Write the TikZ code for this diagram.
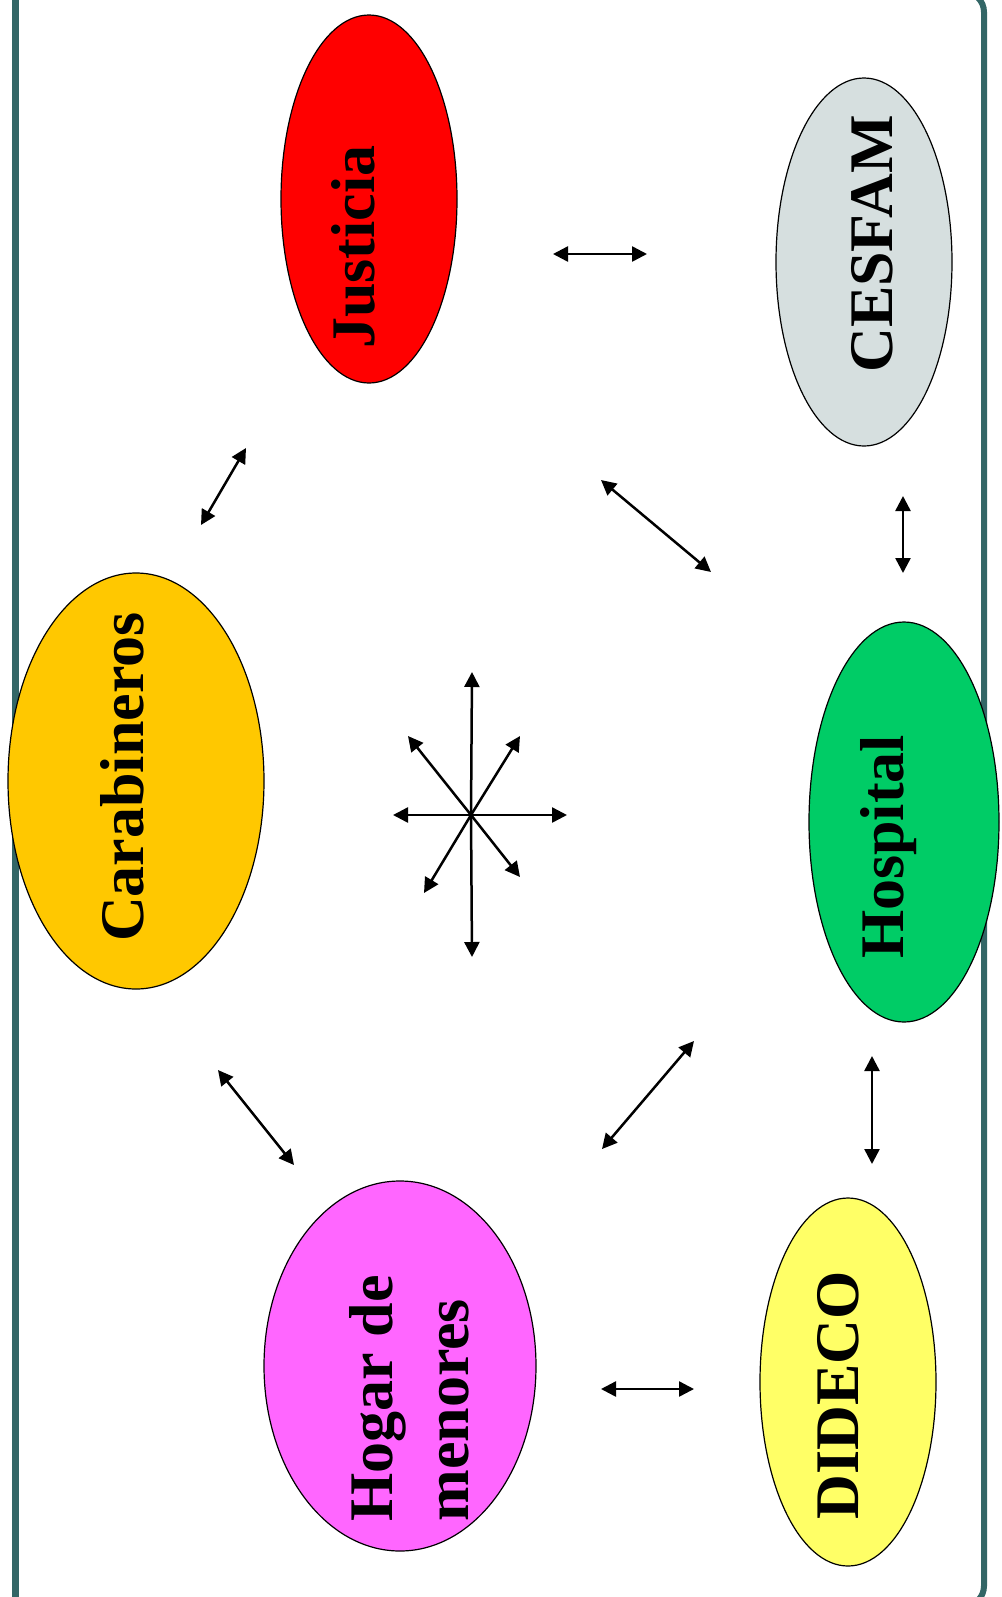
\documentclass[tikz,border=0pt]{standalone}
\usepackage{fontspec}
\setmainfont{Liberation Serif}
\usetikzlibrary{shapes.geometric,arrows.meta}
\definecolor{marco}{HTML}{336666}
\definecolor{gris}{HTML}{D6DFDF}
\definecolor{oro}{HTML}{FFC800}
\definecolor{verde}{HTML}{00CC66}
\definecolor{rosa}{HTML}{FF66FF}
\definecolor{amarillo}{HTML}{FFFF66}

\begin{document}
\begin{tikzpicture}[x=0.5pt,y=-0.5pt,
        elipse/.style={draw=black,line width=0.6pt,ellipse,inner sep=0pt},
        rotulo/.style={rotate=90,inner sep=0pt,font=\fontsize{31}{37}\selectfont\bfseries},
        flecha/.style={line width=1.25pt,{Triangle[length=7.5pt,width=7.5pt]}-{Triangle[length=7.5pt,width=7.5pt]}},
        rayo/.style={line width=1.25pt,-{Triangle[length=7.5pt,width=7.5pt]}}]
        \clip (0,0) rectangle (1002,1597);
        \fill[white] (0,0) rectangle (1002,1597);

        % 画出边框
        \draw[marco,line width=3.5pt] (15,-40) -- (15,1640);
        \draw[marco,line width=3pt,rounded corners=10pt] (900,-8) -- (984,-8) -- (984,1606) -- (900,1606);

        % 椭圆
        \node[elipse,fill=red,minimum width=88pt,minimum height=184pt] (jus) at (369,199) {};
        \node[elipse,fill=gris,minimum width=88pt,minimum height=184pt] (ces) at (864,262) {};
        \node[elipse,fill=oro,minimum width=128pt,minimum height=208pt] (car) at (136,781) {};
        \node[elipse,fill=verde,minimum width=95pt,minimum height=200pt] (hos) at (904,822) {};
        \node[elipse,fill=rosa,minimum width=136pt,minimum height=185pt] (hog) at (400,1366) {};
        \node[elipse,fill=amarillo,minimum width=88pt,minimum height=184pt] (did) at (848,1382) {};

        % 文字
        \node[rotulo,anchor=base] (jusl) at (374,247) {Justicia};
        \node[rotulo,anchor=base] (cesl) at (892,244) {CESFAM};
        \node[rotulo,anchor=base] (carl) at (143,777) {Carabineros};
        \node[rotulo,anchor=base] (hosl) at (903,847) {Hospital};
        \node[rotulo,anchor=base west] (hogl) at (392,1522) {Hogar de};
        \node[rotulo,anchor=base west] (meno) at (468,1522) {menores};
        \node[rotulo,anchor=base] (didl) at (858,1395) {DIDECO};

        % 双向箭头
        \foreach \xa/\ya/\xb/\yb [count=\k] in {553/254/647/254, 246/448/201/525,
                601/480/711/572, 903/496/903/573, 218/1070/294/1165,
                694/1041/602/1149, 872/1056/872/1164, 601/1389/694/1389} {
            \coordinate (ini\k) at (\xa,\ya);
            \coordinate (fin\k) at (\xb,\yb);
            \draw[flecha] (ini\k) -- (fin\k);
        }

        % 中间的八个箭头
        \coordinate (centro) at (471,815);
        \foreach \x/\y [count=\k] in {472/672, 472/957, 393/815, 567/815,
                408/736, 520/736, 424/893, 520/877} {
            \coordinate (punta\k) at (\x,\y);
            \draw[rayo] (centro) -- (punta\k);
        }

    \end{tikzpicture}
\end{document}
